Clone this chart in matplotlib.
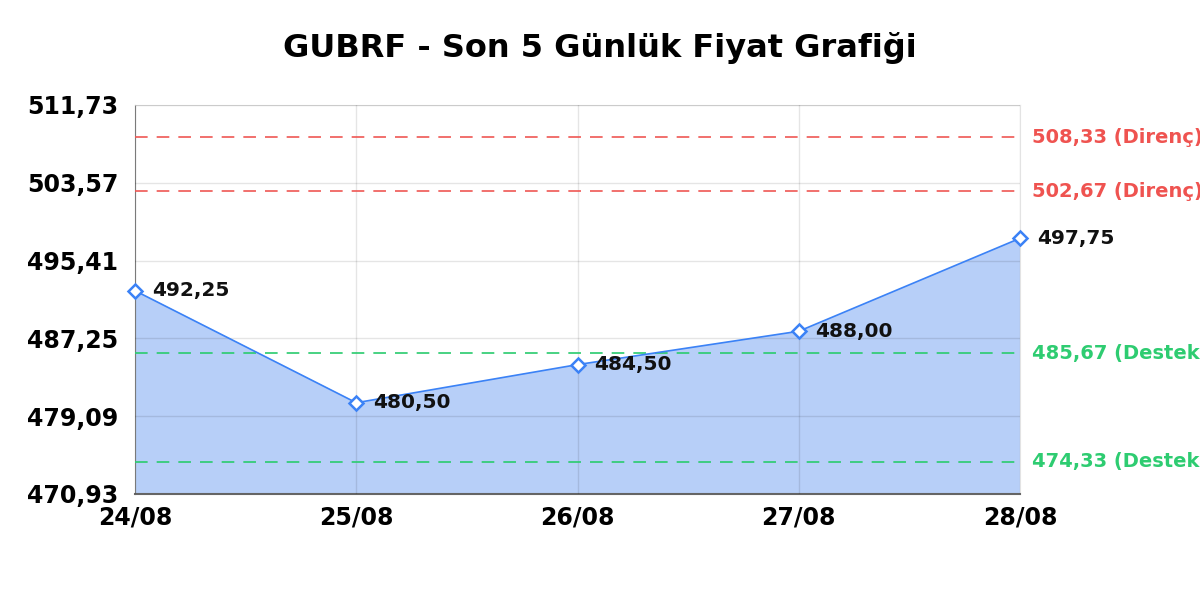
import matplotlib
matplotlib.use("Agg")
import matplotlib.pyplot as plt
import numpy as np

FAM = ["DejaVu Sans"]

# data
dates = ["24/08", "25/08", "26/08", "27/08", "28/08"]
prices = [492.25, 480.50, 484.50, 488.00, 497.75]
resistance = [508.33, 502.67]
support = [485.67, 474.33]
ymin, ymax = 470.93, 511.73

def tr(v):
    return f"{v:.2f}".replace(".", ",")

fig = plt.figure(figsize=(12, 6), dpi=100)
ax = fig.add_axes([0.1125, 0.1767, 0.7375, 0.6483])

x = np.arange(len(dates))
ax.fill_between(x, prices, ymin, color="#b7cff8", zorder=1)
ax.plot(x, prices, color="#3b82f6", lw=1.2, marker="D", ms=7,
        mfc="white", mec="#3b82f6", mew=1.8, zorder=4, clip_on=False)

for xi, p in zip(x, prices):
    ax.annotate(tr(p), (xi, p), xytext=(12, 0), textcoords="offset points",
                ha="left", va="center", fontsize=14.5, fontweight="bold",
                family=FAM, color="#111111", zorder=5)

for r in resistance:
    ax.axhline(r, color="#ef5350", lw=1.3, ls=(0, (7, 5)), alpha=0.9, zorder=3)
    ax.annotate(f"{tr(r)} (Direnç)", (1, r), xycoords=("axes fraction", "data"),
                xytext=(9, 0), textcoords="offset points", va="center",
                fontsize=14, fontweight="bold", family=FAM, color="#ef5350",
                annotation_clip=False)
for s in support:
    ax.axhline(s, color="#2ecc71", lw=1.3, ls=(0, (7, 5)), alpha=0.95, zorder=3)
    ax.annotate(f"{tr(s)} (Destek)", (1, s), xycoords=("axes fraction", "data"),
                xytext=(9, 0), textcoords="offset points", va="center",
                fontsize=14, fontweight="bold", family=FAM, color="#2ecc71",
                annotation_clip=False)

yt = np.linspace(ymin, ymax, 6)
ax.set_ylim(ymin, ymax)
ax.set_xlim(0, len(dates) - 1)
ax.set_yticks(yt)
ax.set_yticklabels([tr(v) for v in yt], fontsize=17, fontweight="bold", family=FAM)
ax.set_xticks(x)
ax.set_xticklabels(dates, fontsize=17, fontweight="bold", family=FAM)
ax.tick_params(axis="y", length=0, pad=12)
ax.tick_params(axis="x", length=0, pad=8)
ax.set_axisbelow(False)
ax.grid(True, color="black", alpha=0.1, lw=1)

for side in ["top", "right"]:
    ax.spines[side].set_color("#e3e3e3")
ax.spines["left"].set_color("#888888")
ax.spines["bottom"].set_color("#666666")
ax.spines["bottom"].set_linewidth(1.5)

fig.suptitle("GUBRF - Son 5 Günlük Fiyat Grafiği", fontsize=23,
             fontweight="bold", family=FAM, y=0.92, va="center")

fig.savefig("out.png", dpi=100)
